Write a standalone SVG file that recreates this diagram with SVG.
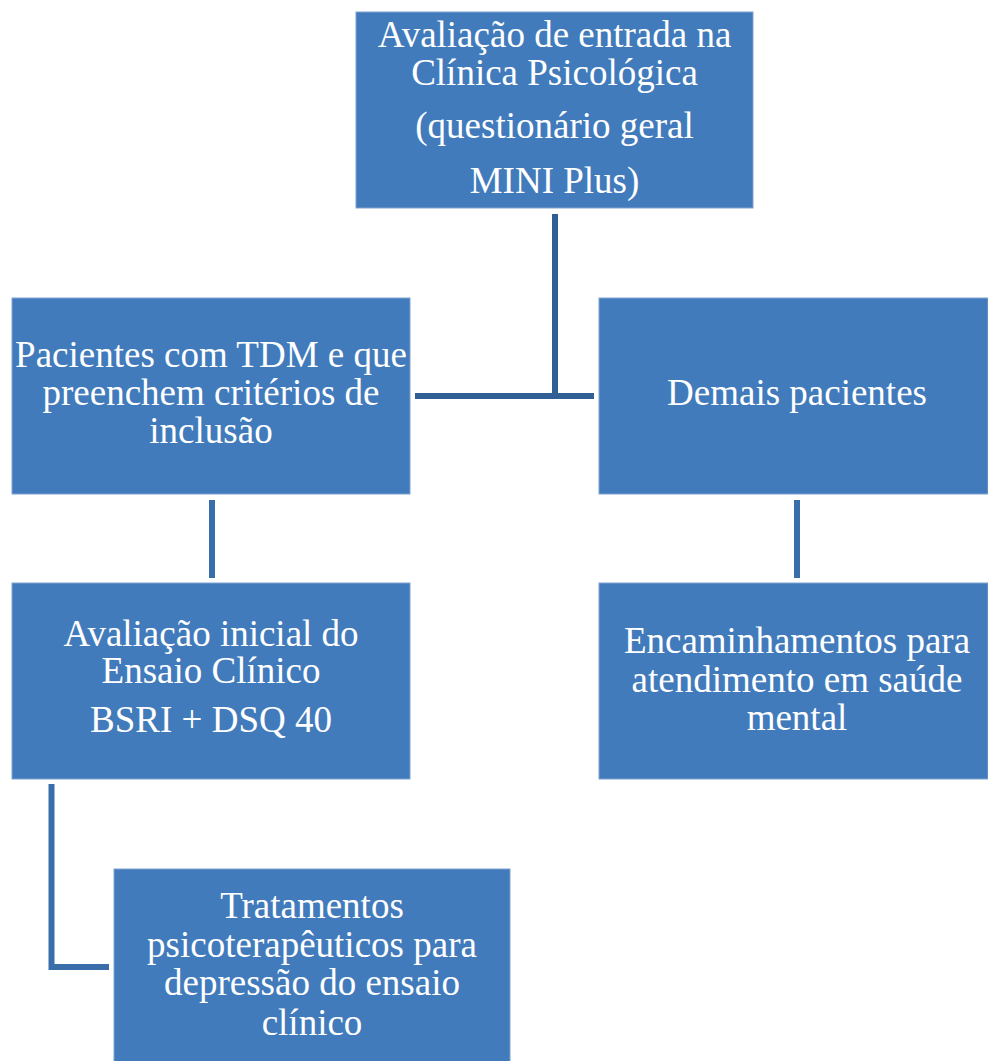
<svg xmlns="http://www.w3.org/2000/svg" width="988" height="1061" viewBox="0 0 988 1061">
<style>
.box{fill:#417bbc;stroke:#7fa3d0;stroke-width:1}
.t{font-family:"Liberation Serif","Times New Roman",serif;font-size:37px;fill:#ffffff;text-anchor:middle}
.c1{fill:none;stroke:#2f5f94;stroke-width:6}
.c2{fill:none;stroke:#3a6eaa;stroke-width:6}
</style>
<rect width="988" height="1061" fill="#ffffff"/>
<g id="connectors">
<line class="c1" x1="555" y1="214" x2="555" y2="396"/>
<line class="c1" x1="415" y1="396" x2="594" y2="396"/>
<line class="c2" x1="212" y1="500" x2="212" y2="578"/>
<line class="c2" x1="797" y1="500" x2="797" y2="578"/>
<polyline class="c2" points="51.5,784 51.5,967 109,967"/>
</g>
<g id="node-entrada">
<rect class="box" x="356" y="12" width="397" height="196"/>
<text class="t" x="554.5" y="47">Avaliação de entrada na</text>
<text class="t" x="554.5" y="85">Clínica Psicológica</text>
<text class="t" x="554.5" y="138">(questionário geral</text>
<text class="t" x="554.5" y="193">MINI Plus)</text>
</g>
<g id="node-tdm">
<rect class="box" x="12" y="298" width="398" height="196"/>
<text class="t" x="211" y="367">Pacientes com TDM e que</text>
<text class="t" x="211" y="405">preenchem critérios de</text>
<text class="t" x="211" y="443">inclusão</text>
</g>
<g id="node-demais">
<rect class="box" x="599" y="298" width="389" height="196"/>
<text class="t" x="797" y="405">Demais pacientes</text>
</g>
<g id="node-avaliacao-inicial">
<rect class="box" x="12" y="583" width="398" height="196"/>
<text class="t" x="211" y="646">Avaliação inicial do</text>
<text class="t" x="211" y="683">Ensaio Clínico</text>
<text class="t" x="211" y="732">BSRI + DSQ 40</text>
</g>
<g id="node-encaminhamentos">
<rect class="box" x="599" y="583" width="389" height="196"/>
<text class="t" x="797" y="653">Encaminhamentos para</text>
<text class="t" x="797" y="692">atendimento em saúde</text>
<text class="t" x="797" y="730">mental</text>
</g>
<g id="node-tratamentos">
<rect class="box" x="114" y="869" width="396" height="200"/>
<text class="t" x="312" y="918">Tratamentos</text>
<text class="t" x="312" y="957">psicoterapêuticos para</text>
<text class="t" x="312" y="995">depressão do ensaio</text>
<text class="t" x="312" y="1035">clínico</text>
</g>
</svg>
